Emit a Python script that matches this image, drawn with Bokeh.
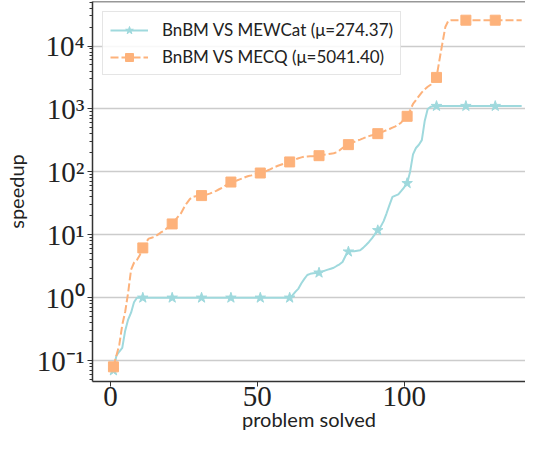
from bokeh.plotting import figure
from bokeh.models import Range1d, Span, Legend, LegendItem, LogTicker, FixedTicker, ColumnDataSource
from bokeh.embed import file_html
from bokeh.resources import INLINE

# ---- data -------------------------------------------------------------
problems = list(range(1, 141))

mewcat = [0.07, 0.12, 0.14, 0.16, 0.30, 0.45, 0.58, 0.85, 1.0, 1.0,
          1.0, 1.0, 1.0, 1.0, 1.0, 1.0, 1.0, 1.0, 1.0, 1.0,
          1.0, 1.0, 1.0, 1.0, 1.0, 1.0, 1.0, 1.0, 1.0, 1.0,
          1.0, 1.0, 1.0, 1.0, 1.0, 1.0, 1.0, 1.0, 1.0, 1.0,
          1.0, 1.0, 1.0, 1.0, 1.0, 1.0, 1.0, 1.0, 1.0, 1.0,
          1.0, 1.0, 1.0, 1.0, 1.0, 1.0, 1.0, 1.0, 1.0, 1.0,
          1.0, 1.1, 1.25, 1.4, 1.7, 2.0, 2.3, 2.4, 2.45, 2.48,
          2.5, 2.6, 2.7, 2.8, 2.9, 3.0, 3.2, 3.4, 3.7, 4.6,
          5.4, 5.5, 5.5, 5.6, 5.7, 6.2, 6.9, 7.7, 8.8, 10.2,
          11.8, 13.5, 16.5, 22, 30, 40, 42, 44, 50, 57,
          66, 100, 190, 240, 270, 320, 650, 1000, 1080, 1100,
          1110, 1110, 1110, 1110, 1110, 1110, 1110, 1110, 1110, 1110,
          1110, 1110, 1110, 1110, 1110, 1110, 1110, 1110, 1110, 1110,
          1110, 1110, 1110, 1110, 1110, 1110, 1110, 1110, 1110, 1110]

mecq = [0.08, 0.12, 0.18, 0.37, 0.6, 1.2, 2.8, 3.6, 4.0, 4.8,
        6.2, 7.5, 8.7, 9.0, 9.3, 10.0, 10.8, 11.5, 12.5, 13.7,
        14.9, 17, 19.5, 22, 27, 32, 37, 40, 41, 41.5,
        42, 43, 44, 45.5, 48, 50, 53, 56, 60, 64,
        69, 71, 73, 76, 79, 83, 86, 88, 91, 94,
        96, 99, 103, 108, 114, 120, 125, 130, 135, 140,
        144, 150, 158, 165, 170, 175, 176, 177, 178, 179,
        181, 184, 188, 192, 195, 198, 205, 220, 240, 258,
        271, 285, 300, 315, 326, 340, 355, 370, 382, 395,
        405, 420, 440, 460, 480, 505, 530, 560, 610, 690,
        764, 950, 1200, 1380, 1600, 1830, 2050, 2250, 2420, 2800,
        3170, 6000, 11000, 20000, 25000, 25700, 25700, 25700, 25700, 25700,
        25700, 25700, 25700, 25700, 25700, 25700, 25700, 25700, 25700, 25700,
        25700, 25700, 25700, 25700, 25700, 25700, 25700, 25700, 25700, 25700]

label_mewcat = "BnBM VS MEWCat (\u03bc=274.37)"
label_mecq = "BnBM VS MECQ (\u03bc=5041.40)"
x_ticks = [0, 50, 100]
y_ticks = [0.1, 1, 10, 100, 1000, 10000]
y_tick_labels = ["10\u207b\u00b9", "10\u2070", "10\u00b9", "10\u00b2", "10\u00b3", "10\u2074"]
mark_every = 10

# ---- styles -------------------------------------------------------------
TEAL = "#9fd9dd"
ORANGE = "#fdb27b"
AXIS = "#333333"
SERIF = "Liberation Serif"
SANS = "Lato"

Y_TOP = 10 ** 4.707
Y_BOT = 10 ** -1.33

p = figure(width=525, height=433, y_axis_type="log",
           x_range=Range1d(-6.13, 141.3), y_range=Range1d(Y_BOT, Y_TOP),
           output_backend="svg", toolbar_location=None,
           min_border_left=92, min_border_top=1, min_border_right=0, min_border_bottom=0)
p.outline_line_color = None
p.background_fill_color = "white"
p.border_fill_color = "white"

src1 = ColumnDataSource(dict(x=problems, y=mewcat))
src2 = ColumnDataSource(dict(x=problems, y=mecq))
m1 = ColumnDataSource(dict(x=problems[::mark_every], y=mewcat[::mark_every]))
m2 = ColumnDataSource(dict(x=problems[::mark_every], y=mecq[::mark_every]))

l1 = p.line("x", "y", source=src1, line_color=TEAL, line_width=2)
s1 = p.scatter("x", "y", source=m1, marker="star", size=11, fill_color=TEAL, line_color=TEAL)
l2 = p.line("x", "y", source=src2, line_color=ORANGE, line_width=2, line_dash="8 3")
s2 = p.scatter("x", "y", source=m2, marker="square", size=10, fill_color=ORANGE, line_color=ORANGE)

# grid
p.xgrid.visible = False
p.ygrid.grid_line_color = "#cccccc"
p.ygrid.grid_line_width = 1.5
p.ygrid.ticker = FixedTicker(ticks=y_ticks)

# axes
p.xaxis.ticker = FixedTicker(ticks=x_ticks)
p.yaxis.ticker = LogTicker(num_minor_ticks=10)
p.yaxis.major_label_overrides = {t: s for t, s in zip(y_ticks, y_tick_labels)}
for ax in (p.xaxis[0], p.yaxis[0]):
    ax.axis_line_color = AXIS
    ax.axis_line_width = 1.5
    ax.major_tick_line_color = AXIS
    ax.minor_tick_line_color = AXIS
    ax.major_tick_in = 0
    ax.minor_tick_in = 0
    ax.major_tick_out = 5
    ax.minor_tick_out = 3
    ax.major_label_text_font = SERIF
    ax.major_label_text_font_size = "29px"
    ax.major_label_text_color = "#222222"
    ax.axis_label_text_font = SANS
    ax.axis_label_text_font_size = "20px"
    ax.axis_label_text_font_style = "normal"
    ax.axis_label_text_color = "#222222"
p.xaxis.minor_tick_out = 0
p.xaxis.major_label_standoff = 0
p.yaxis.major_label_standoff = 3
p.xaxis.axis_label = "problem solved"
p.yaxis.axis_label = "speedup"
p.xaxis.axis_label_standoff = -2
p.yaxis.axis_label_standoff = 6

top = Span(location=Y_TOP, dimension="width", line_color=AXIS, line_width=1.5)
p.add_layout(top)

legend = Legend(items=[LegendItem(label=label_mewcat, renderers=[l1, s1]),
                       LegendItem(label=label_mecq, renderers=[l2, s2])],
                location="top_left", margin=10, padding=7, spacing=6,
                glyph_width=38, label_standoff=14,
                label_text_font=SANS, label_text_font_size="17px", label_text_color="#222222",
                border_line_color="#cccccc", border_line_width=1,
                background_fill_alpha=0.85)
p.add_layout(legend)

open("out.html", "w").write(file_html(p, INLINE))
